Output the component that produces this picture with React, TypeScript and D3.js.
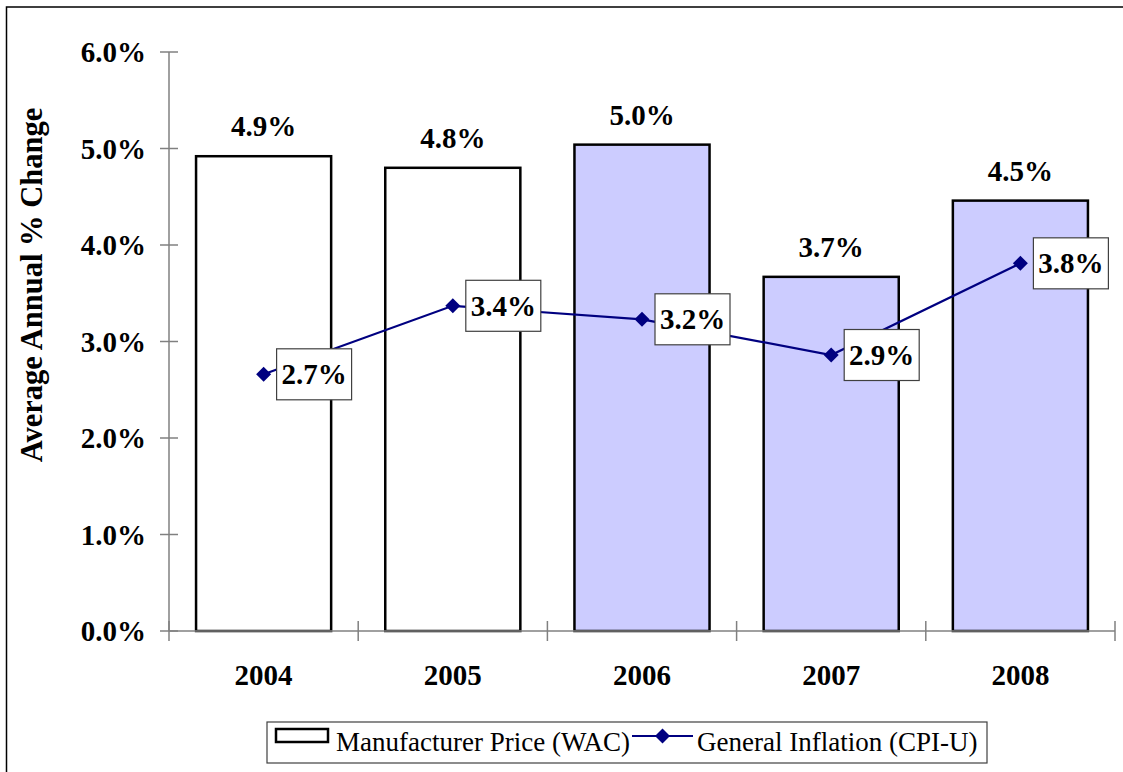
import React from "react";
import * as d3 from "d3";

const years = ["2004", "2005", "2006", "2007", "2008"];
const wacValues = [4.92, 4.8, 5.04, 3.67, 4.46];
const cpiValues = [2.66, 3.37, 3.23, 2.86, 3.81];
const barFills = ["#FFFFFF", "#FFFFFF", "#CCCCFF", "#CCCCFF", "#CCCCFF"];
const yTicks = [0, 1, 2, 3, 4, 5, 6];
const seriesNames = ["Manufacturer Price (WAC)", "General Inflation (CPI-U)"];

const W = 1123;
const H = 772;
const FONT = "'Liberation Serif', 'Times New Roman', serif";

export default function App() {
  const x = d3.scaleBand<string>().domain(years).range([169, 1115]).padding(0);
  const y = d3.scaleLinear().domain([0, 6]).range([631, 52]);
  const bw = x.bandwidth();
  const barW = bw * 0.714;
  const cx = (yr: string) => (x(yr) as number) + bw / 2;
  const line = d3
    .line<number>()
    .x((_, i) => cx(years[i]))
    .y((d) => y(d));
  const diamond = (px: number, py: number, r: number) =>
    `M${px},${py - r}L${px + r},${py}L${px},${py + r}L${px - r},${py}Z`;
  const boundaries = [...years.map((yr) => x(yr) as number), 1115];

  return (
    <svg
      width={W}
      height={H}
      style={{ position: "absolute", left: 0, top: 0, background: "#fff" }}
      fontFamily={FONT}
    >
      <rect x={6.5} y={7} width={1300} height={1000} fill="#fff" stroke="#000" strokeWidth={1.5} />

      {/* bars */}
      {years.map((yr, i) => (
        <rect
          key={yr}
          x={(x(yr) as number) + (bw - barW) / 2}
          y={y(wacValues[i])}
          width={barW}
          height={y(0) - y(wacValues[i])}
          fill={barFills[i]}
          stroke="#000"
          strokeWidth={2.5}
        />
      ))}

      {/* axes */}
      <line x1={169} x2={169} y1={y(6)} y2={y(0)} stroke="#808080" strokeWidth={1.5} />
      <line x1={169} x2={1115} y1={y(0)} y2={y(0)} stroke="#808080" strokeWidth={1.5} />
      {yTicks.map((t) => (
        <g key={t}>
          <line x1={160} x2={178} y1={y(t)} y2={y(t)} stroke="#808080" strokeWidth={1.5} />
          <text
            x={146}
            y={y(t)}
            dy="0.35em"
            textAnchor="end"
            fontSize={29}
            fontWeight="bold"
          >
            {t.toFixed(1) + "%"}
          </text>
        </g>
      ))}
      {boundaries.map((bx, i) => (
        <line key={i} x1={bx} x2={bx} y1={y(0) - 10} y2={y(0) + 10} stroke="#808080" strokeWidth={1.5} />
      ))}
      {years.map((yr) => (
        <text key={yr} x={cx(yr)} y={685} textAnchor="middle" fontSize={29} fontWeight="bold">
          {yr}
        </text>
      ))}

      {/* y axis title */}
      <text
        transform={`translate(42, 285) rotate(-90)`}
        textAnchor="middle"
        fontSize={30.5}
        fontWeight="bold"
      >
        Average Annual % Change
      </text>

      {/* bar labels */}
      {years.map((yr, i) => (
        <text
          key={yr}
          x={cx(yr)}
          y={y(wacValues[i]) - 20}
          textAnchor="middle"
          fontSize={29}
          fontWeight="bold"
        >
          {wacValues[i].toFixed(1) + "%"}
        </text>
      ))}

      {/* CPI line */}
      <path d={line(cpiValues) as string} fill="none" stroke="#000080" strokeWidth={2.2} />
      {cpiValues.map((v, i) => (
        <path key={i} d={diamond(cx(years[i]), y(v), 7.5)} fill="#000080" />
      ))}
      {cpiValues.map((v, i) => {
        const bx = cx(years[i]) + 13;
        const by = y(v) - 25.5;
        return (
          <g key={i}>
            <rect x={bx} y={by} width={75} height={51} fill="#fff" stroke="#404040" strokeWidth={1.2} />
            <text x={bx + 37.5} y={y(v)} dy="0.35em" textAnchor="middle" fontSize={29} fontWeight="bold">
              {v.toFixed(1) + "%"}
            </text>
          </g>
        );
      })}

      {/* legend */}
      <rect x={267} y={722} width={720} height={41} fill="#fff" stroke="#404040" strokeWidth={1.2} />
      <rect x={276} y={729} width={52} height={13} fill="#fff" stroke="#000" strokeWidth={2.5} />
      <text x={336} y={751} fontSize={27}>
        {seriesNames[0]}
      </text>
      <line x1={632} x2={693} y1={736} y2={736} stroke="#000080" strokeWidth={2.2} />
      <path d={diamond(662.5, 736, 7.5)} fill="#000080" />
      <text x={697} y={751} fontSize={27}>
        {seriesNames[1]}
      </text>
    </svg>
  );
}
